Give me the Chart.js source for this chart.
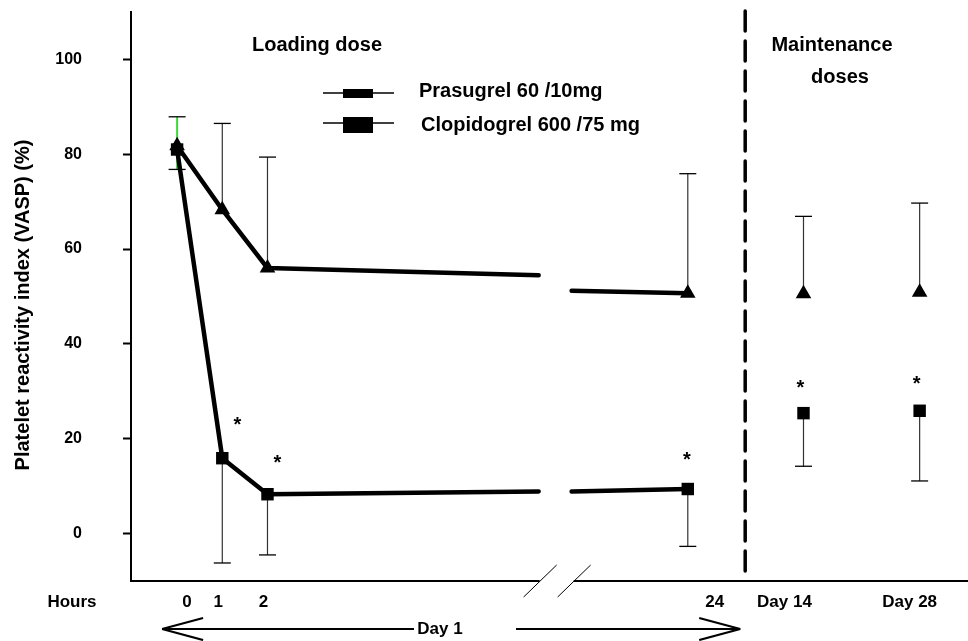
<!DOCTYPE html>
<html>
<head>
<meta charset="utf-8">
<script src="https://cdn.jsdelivr.net/npm/chart.js@4.4.1/dist/chart.umd.min.js"></script>
<style>
  html, body { margin: 0; padding: 0; background: #fff; }
  canvas { display: block; }
</style>
</head>
<body>
<canvas id="chart" width="968" height="641"></canvas>
<script>
// time points: hours of day 1, then the maintenance days
const timeLabels = ['0', '1', '2', '24', 'Day 14', 'Day 28'];

// Prasugrel 60/10 mg (squares): mean and lower SD bound
const prasugrelMean = [81, 15.9, 8.3, 9.4, 25.4, 25.9];
const prasugrelLow = [76.8, -6.2, -4.5, -2.7, 14.2, 11.1];

// Clopidogrel 600/75 mg (triangles): mean and upper SD bound
const clopidogrelMean = [81.8, 68.3, 56, 50.7, 50.6, 50.9];
const clopidogrelHigh = [87.9, 86.5, 79.4, 75.9, 66.9, 69.7];

// values where the day-1 lines stop / restart around the axis break
const prasugrelAtBreak = [8.9, 8.9];
const clopidogrelAtBreak = [54.5, 51.2];

// significance marks
const starLabels = ['1', '2', '24', 'Day 14', 'Day 28'];
const starValues = [24, 16, 16.6, 31.8, 32.7];

const yTicks = [0, 20, 40, 60, 80, 100];

// --- layout of the broken time axis (in hour widths) ---
const slot = { '0': 0, '1': 1, '2': 2, '24': 11.3, 'Day 14': 13.86, 'Day 28': 16.43 };
const breakSlots = [8.0, 8.73];
const dividerSlot = 12.57;
const labelNudge = { '0': 10, '1': -4, '2': -4, '24': 27, 'Day 14': -19, 'Day 28': -10 };
const starNudge = [15, 10, -1, -3, -3];

const FONT = '"Liberation Sans", Arial, sans-serif';
Chart.defaults.font.family = FONT;

function markers(mean) {
  return timeLabels.map((t, i) => ({ x: slot[t], y: mean[i] }));
}

function dayOneLine(mean, atBreak) {
  return [
    { x: slot['0'], y: mean[0] },
    { x: slot['1'], y: mean[1] },
    { x: slot['2'], y: mean[2] },
    { x: breakSlots[0], y: atBreak[0] },
    { x: (breakSlots[0] + breakSlots[1]) / 2, y: null },
    { x: breakSlots[1], y: atBreak[1] },
    { x: slot['24'], y: mean[3] },
  ];
}

function line(ctx, x1, y1, x2, y2) {
  ctx.beginPath();
  ctx.moveTo(x1, y1);
  ctx.lineTo(x2, y2);
  ctx.stroke();
}

function errorBar(ctx, x, y0, y1, stem, w) {
  ctx.strokeStyle = stem;
  ctx.lineWidth = w;
  line(ctx, x, y0, x, y1);
  ctx.strokeStyle = '#000';
  ctx.lineWidth = 1.3;
  line(ctx, x - 8.5, y1, x + 8.5, y1);
}

const decor = {
  id: 'decor',
  beforeDatasetsDraw(chart) {
    const { ctx, scales: { x, y }, chartArea } = chart;
    ctx.save();
    timeLabels.forEach((t, i) => {
      const px = x.getPixelForValue(slot[t]);
      // the baseline bar is drawn in green in the original figure
      const stem = i === 0 ? '#3fd83a' : '#333';
      const w = i === 0 ? 2 : 1.2;
      errorBar(ctx, px, y.getPixelForValue(clopidogrelMean[i]), y.getPixelForValue(clopidogrelHigh[i]), stem, w);
      errorBar(ctx, px, y.getPixelForValue(prasugrelMean[i]), y.getPixelForValue(prasugrelLow[i]), stem, w);
    });
    // divider between loading and maintenance phases
    const dx = x.getPixelForValue(dividerSlot);
    ctx.strokeStyle = '#000';
    ctx.lineWidth = 3.5;
    ctx.lineCap = 'round';
    ctx.setLineDash([20, 10]);
    line(ctx, dx, 11, dx, chartArea.bottom);
    ctx.restore();
  },
  afterDraw(chart) {
    const { ctx, scales: { x, y }, chartArea } = chart;
    const bottom = chartArea.bottom;
    ctx.save();
    ctx.fillStyle = '#000';
    ctx.strokeStyle = '#000';

    // x axis with break
    const bL = x.getPixelForValue(breakSlots[0]);
    const bR = x.getPixelForValue(breakSlots[1]);
    ctx.lineWidth = 2;
    line(ctx, chartArea.left - 1, bottom, bL + 1, bottom);
    line(ctx, bR + 2, bottom, chartArea.right, bottom);
    ctx.lineWidth = 1;
    line(ctx, bL - 15, bottom + 16, bL + 18, bottom - 16);
    line(ctx, bL + 19, bottom + 16, bL + 52, bottom - 16);

    // stars
    ctx.font = 'bold 20px ' + FONT;
    ctx.textAlign = 'center';
    ctx.textBaseline = 'alphabetic';
    starLabels.forEach((t, i) => {
      const px = x.getPixelForValue(slot[t]) + starNudge[i];
      const py = y.getPixelForValue(starValues[i]);
      ctx.fillText('*', px, py + 11.5);
    });

    // x tick labels
    ctx.textBaseline = 'middle';
    ctx.font = 'bold 17px ' + FONT;
    ctx.fillText('Hours', 72, 602);
    timeLabels.forEach(t => {
      ctx.fillText(t, x.getPixelForValue(slot[t]) + labelNudge[t], 602);
    });

    // Day 1 double arrow
    const ay = 629;
    const aL = x.getPixelForValue(slot['0']) - 15;
    const aR = x.getPixelForValue(dividerSlot) - 5;
    ctx.lineWidth = 2.2;
    line(ctx, aL, ay, 414, ay);
    line(ctx, 516, ay, aR, ay);
    line(ctx, aL, ay, aL + 41, ay - 11);
    line(ctx, aL, ay, aL + 41, ay + 11);
    line(ctx, aR, ay, aR - 41, ay - 11);
    line(ctx, aR, ay, aR - 41, ay + 11);
    ctx.fillText('Day 1', 440, ay);

    // phase titles
    ctx.font = 'bold 20px ' + FONT;
    ctx.fillText('Loading dose', 317, 45);
    ctx.fillText('Maintenance', 832, 45);
    ctx.fillText('doses', 840, 77);

    // legend
    ctx.textAlign = 'left';
    ctx.lineWidth = 1.5;
    line(ctx, 323, 93, 394, 93);
    ctx.fillRect(343, 89, 30, 9);
    ctx.fillText('Prasugrel 60 /10mg', 419, 91);
    line(ctx, 323, 123, 394, 123);
    ctx.fillRect(343, 117, 30, 16);
    ctx.fillText('Clopidogrel 600 /75 mg', 421, 125);

    // y axis title
    ctx.save();
    ctx.translate(23, 305);
    ctx.rotate(-Math.PI / 2);
    ctx.textAlign = 'center';
    ctx.fillText('Platelet reactivity index (VASP) (%)', 0, 0);
    ctx.restore();

    ctx.restore();
  }
};

new Chart(document.getElementById('chart'), {
  type: 'scatter',
  data: {
    datasets: [
      {
        label: 'Clopidogrel 600 /75 mg',
        data: markers(clopidogrelMean),
        pointStyle: 'triangle',
        pointRadius: 9,
        backgroundColor: '#000',
        borderColor: '#000',
        borderWidth: 0,
        showLine: false,
        order: 0,
      },
      {
        label: 'Prasugrel 60 /10mg',
        data: markers(prasugrelMean),
        pointStyle: 'rect',
        pointRadius: 8.8,
        backgroundColor: '#000',
        borderColor: '#000',
        borderWidth: 0,
        showLine: false,
        order: 0,
      },
      {
        label: 'clopidogrel day 1',
        data: dayOneLine(clopidogrelMean, clopidogrelAtBreak),
        showLine: true,
        spanGaps: false,
        borderColor: '#000',
        borderWidth: 4.5,
        borderCapStyle: 'round',
        borderJoinStyle: 'round',
        pointRadius: 0,
        order: 1,
      },
      {
        label: 'prasugrel day 1',
        data: dayOneLine(prasugrelMean, prasugrelAtBreak),
        showLine: true,
        spanGaps: false,
        borderColor: '#000',
        borderWidth: 4.5,
        borderCapStyle: 'round',
        borderJoinStyle: 'round',
        pointRadius: 0,
        order: 1,
      },
    ],
  },
  options: {
    responsive: false,
    animation: false,
    devicePixelRatio: 1,
    layout: { autoPadding: false, padding: { top: 12, bottom: 60, left: 0, right: 0 } },
    plugins: { legend: { display: false }, tooltip: { enabled: false } },
    scales: {
      x: { type: 'linear', display: false, min: -1.02, max: 17.5 },
      y: {
        type: 'linear',
        min: -10,
        max: 110,
        afterFit(scale) {
          scale.width = 131;
          scale.paddingTop = 0;
          scale.paddingBottom = 0;
        },
        afterBuildTicks(scale) { scale.ticks = yTicks.map(v => ({ value: v })); },
        border: { display: true, color: '#000', width: 2 },
        grid: { display: true, drawOnChartArea: false, drawTicks: true, tickLength: 8, tickWidth: 2, tickColor: '#000' },
        ticks: { color: '#000', padding: 41, font: { size: 16, weight: 'bold' } },
      },
    },
  },
  plugins: [decor],
});
</script>
</body>
</html>
